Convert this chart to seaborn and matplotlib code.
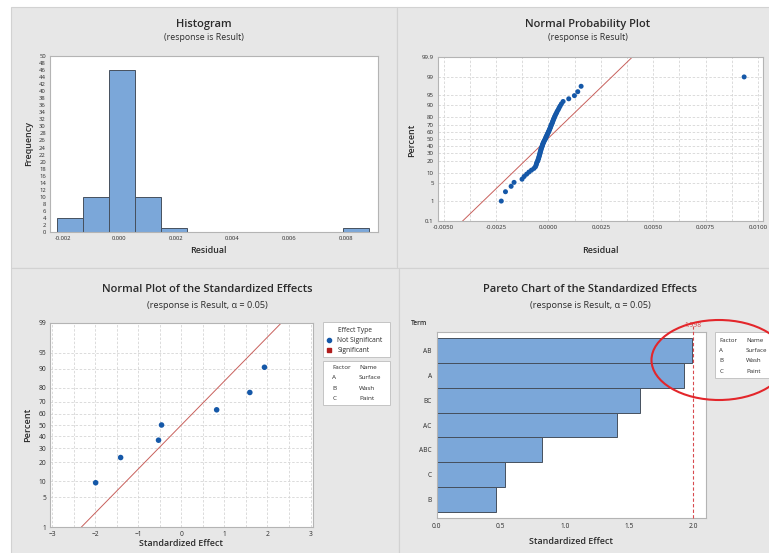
import matplotlib
matplotlib.use('Agg')
import numpy as np
import pandas as pd
import matplotlib.pyplot as plt
import seaborn as sns
from matplotlib.patches import Rectangle, Ellipse
from matplotlib.lines import Line2D
from matplotlib.transforms import blended_transform_factory
from statistics import NormalDist

# ── 1. DATA ──────────────────────────────────────────────────
hist_edges = [-0.0022, -0.00128, -0.00036, 0.00056, 0.00148, 0.0024, 0.00332,
              0.00424, 0.00516, 0.00608, 0.007, 0.00792, 0.00884]
hist_counts = [4, 10, 46, 10, 1, 0, 0, 0, 0, 0, 0, 1]

residuals = [
    -0.00225, -0.00205, -0.00178, -0.00164, -0.00126, -0.00116, -0.00104,
    -0.00093, -0.00081, -0.00069, -0.00062, -0.00059, -0.00057, -0.00055,
    -0.00051, -0.00050, -0.00047, -0.00046, -0.00044, -0.00043, -0.00041,
    -0.00040, -0.00039, -0.00037, -0.00036, -0.00035, -0.00033, -0.00031,
    -0.00030, -0.00028, -0.00027, -0.00025, -0.00023, -0.00021, -0.00019,
    -0.00016, -0.00014, -0.00012, -0.00011, -0.00008, -0.00006, -0.00005,
    -0.00002, 0.00000, 0.00002, 0.00004, 0.00006, 0.00008, 0.00010,
    0.00012, 0.00013, 0.00016, 0.00018, 0.00020, 0.00022, 0.00024,
    0.00027, 0.00029, 0.00032, 0.00035, 0.00039, 0.00042, 0.00047,
    0.00051, 0.00056, 0.00062, 0.00070, 0.00097, 0.00124, 0.00140,
    0.00156, 0.00934,
]

effect_terms = ['A', 'B', 'C', 'AB', 'AC', 'BC', 'ABC']
effect_values = [1.93, -0.46, -0.53, -1.99, -1.41, 1.59, 0.82]
t_crit = 1.998

factor_codes = ['A', 'B', 'C']
factor_names = ['Surface', 'Wash', 'Paint']

hist_xticks = [-0.002, 0.0, 0.002, 0.004, 0.006, 0.008]
resid_xticks = [-0.005, -0.0025, 0.0, 0.0025, 0.005, 0.0075, 0.01]
resid_pct_ticks = [0.1, 1, 5, 10, 20, 30, 40, 50, 60, 70, 80, 90, 95, 99, 99.9]
effect_pct_ticks = [1, 5, 10, 20, 30, 40, 50, 60, 70, 80, 90, 95, 99]

# ── 2. STYLE ─────────────────────────────────────────────────
sns.set_style('white')
plt.rcParams['font.family'] = ['Open Sans', 'DejaVu Sans']

W, H = 769, 553
PANEL = '#e7e7e7'
PANEL_EDGE = '#d2d2d2'
BAR = '#7ba7d9'
BAR_EDGE = '#46505e'
DOT = '#1558a8'
FIT = '#c8605c'
RED = '#d84a4f'
SPINE = '#b4b4b4'
TXT = '#2b2b2b'
ND = NormalDist()

fig = plt.figure(figsize=(W / 100, H / 100), dpi=100)


def frame(x0, y0, x1, y1):
    return [x0 / W, 1 - y1 / H, (x1 - x0) / W, (y1 - y0) / H]


def ftext(x, y, s, **kw):
    kw.setdefault('color', TXT)
    fig.text(x / W, 1 - y / H, s, **kw)


def fbox(x0, y0, x1, y1, fc, ec, lw=0.8, z=-10):
    fig.patches.append(Rectangle((x0 / W, 1 - y1 / H), (x1 - x0) / W, (y1 - y0) / H,
                                 transform=fig.transFigure, facecolor=fc,
                                 edgecolor=ec, lw=lw, zorder=z))


def style_axes(ax, size, pad=1):
    for sp in ax.spines.values():
        sp.set_color(SPINE)
        sp.set_linewidth(0.8)
    ax.tick_params(labelsize=size, length=2, width=0.5, color='#8c8c8c',
                   labelcolor=TXT, pad=pad)
    ax.tick_params(which='minor', length=0)
    ax.set_xlabel('')
    ax.set_ylabel('')


# panel backgrounds
for box in [(11, 7, 397, 268), (397, 7, 776, 268),
            (11, 268, 399, 560), (399, 268, 776, 560)]:
    fbox(*box, PANEL, PANEL_EDGE)

# ── 3. HISTOGRAM ─────────────────────────────────────────────
ax1 = fig.add_axes(frame(50, 56, 378, 232))
centers = [(a + b) / 2 for a, b in zip(hist_edges[:-1], hist_edges[1:])]
sns.histplot(x=centers, weights=hist_counts, bins=hist_edges, color=BAR,
             edgecolor=BAR_EDGE, linewidth=0.7, alpha=1, ax=ax1)
ax1.set_xlim(-0.00246, 0.00915)
ax1.set_ylim(0, 50)
ax1.set_yticks(range(0, 51, 2))
ax1.set_xticks(hist_xticks)
ax1.set_xticklabels([f'{v:.3f}' for v in hist_xticks])
style_axes(ax1, 4.2)
ftext(204, 25, 'Histogram', fontsize=8, fontweight='semibold', ha='center', va='center')
ftext(204, 38, '(response is Result)', fontsize=6.3, ha='center', va='center')
ftext(208, 251, 'Residual', fontsize=6.4, fontweight='semibold', ha='center', va='center')
ftext(29, 144, 'Frequency', fontsize=6.4, fontweight='semibold', rotation=90,
      ha='center', va='center')

# ── 4. NORMAL PROBABILITY PLOT OF RESIDUALS ──────────────────
ax2 = fig.add_axes(frame(438, 57, 763, 221))
res_sorted = np.sort(residuals)
n = len(res_sorted)
z_res = [ND.inv_cdf((i + 1 - 0.3) / (n + 0.4)) for i in range(n)]
mu, sd = np.mean(residuals), np.std(residuals, ddof=1)
z_line = np.array([ND.inv_cdf(0.0002), ND.inv_cdf(0.9998)])
ax2.plot(mu + sd * z_line, z_line, color=FIT, lw=0.7, zorder=2)
sns.scatterplot(x=res_sorted, y=z_res, color=DOT, s=13, edgecolor='none',
                linewidth=0, ax=ax2, zorder=3)
ax2.set_xlim(-0.00527, 0.01024)
ax2.set_ylim(ND.inv_cdf(0.001), ND.inv_cdf(0.999))
ax2.set_xticks(resid_xticks)
ax2.set_xticklabels([f'{v:.4f}' for v in resid_xticks])
ax2.set_xticks([v + 0.00125 for v in resid_xticks[:-1]], minor=True)
ax2.set_yticks([ND.inv_cdf(p / 100) for p in resid_pct_ticks])
ax2.set_yticklabels([f'{p:g}' for p in resid_pct_ticks])
ax2.grid(which='both', axis='x', ls=(0, (3, 2)), color='#d6d6d6', lw=0.6)
ax2.grid(which='major', axis='y', ls=(0, (3, 2)), color='#d6d6d6', lw=0.6)
style_axes(ax2, 4.4)
ftext(588, 25, 'Normal Probability Plot', fontsize=8, fontweight='semibold',
      ha='center', va='center')
ftext(588, 38, '(response is Result)', fontsize=6.3, ha='center', va='center')
ftext(600, 251, 'Residual', fontsize=6.4, fontweight='semibold', ha='center', va='center')
ftext(412, 140, 'Percent', fontsize=6.4, fontweight='semibold', rotation=90,
      ha='center', va='center')

# ── 5. NORMAL PLOT OF STANDARDIZED EFFECTS ───────────────────
ax3 = fig.add_axes(frame(50, 322.7, 312.7, 527.3))
eff = pd.DataFrame({'term': effect_terms, 'effect': effect_values})
eff = eff.sort_values('effect').reset_index(drop=True)
m = len(eff)
eff['z'] = [ND.inv_cdf((i + 1 - 0.3) / (m + 0.4)) for i in range(m)]
eff['type'] = np.where(eff['effect'].abs() > t_crit, 'Significant', 'Not Significant')
z_ref = np.array([ND.inv_cdf(0.001), ND.inv_cdf(0.999)])
ax3.plot(z_ref, z_ref, color=FIT, lw=0.7, zorder=2)
sns.scatterplot(data=eff, x='effect', y='z', hue='type',
                palette={'Not Significant': DOT, 'Significant': '#b01c1c'},
                s=16, edgecolor='none', linewidth=0, legend=False, ax=ax3, zorder=3)
ax3.set_xlim(-3.05, 3.05)
ax3.set_ylim(ND.inv_cdf(0.01), ND.inv_cdf(0.99))
ax3.set_xticks(range(-3, 4))
ax3.set_xticks(np.arange(-2.5, 3.0, 1.0), minor=True)
ax3.set_yticks([ND.inv_cdf(p / 100) for p in effect_pct_ticks])
ax3.set_yticklabels([f'{p:g}' for p in effect_pct_ticks])
ax3.grid(which='both', axis='x', ls=(0, (3, 2)), color='#d6d6d6', lw=0.6)
ax3.grid(which='major', axis='y', ls=(0, (3, 2)), color='#d6d6d6', lw=0.6)
style_axes(ax3, 4.8, pad=0.5)
ftext(207, 289, 'Normal Plot of the Standardized Effects', fontsize=8,
      fontweight='semibold', ha='center', va='center')
ftext(207, 305, '(response is Result, α = 0.05)', fontsize=6.6, ha='center', va='center')
ftext(181, 543, 'Standardized Effect', fontsize=6.4, fontweight='semibold',
      ha='center', va='center')
ftext(28, 425, 'Percent', fontsize=6.6, fontweight='semibold', rotation=90,
      ha='center', va='center')

# legend boxes (effect type + factor table)
fbox(322.7, 322.3, 390, 356.7, 'white', '#c4c4c4', 0.7, 5)
fbox(322.7, 360.7, 390, 405, 'white', '#c4c4c4', 0.7, 5)
ftext(354.5, 330, 'Effect Type', fontsize=4.8, ha='center', va='center', zorder=6)
fig.add_artist(Line2D([329.3 / W], [1 - 340 / H], transform=fig.transFigure,
                      marker='o', ms=3, color=DOT, ls='', zorder=6))
fig.add_artist(Line2D([329.3 / W], [1 - 350 / H], transform=fig.transFigure,
                      marker='s', ms=2.8, color='#b01c1c', ls='', zorder=6))
ftext(337.3, 340, 'Not Significant', fontsize=4.8, va='center', zorder=6)
ftext(337.3, 350, 'Significant', fontsize=4.8, va='center', zorder=6)
ftext(332.3, 367.3, 'Factor', fontsize=4.6, va='center', zorder=6)
ftext(359, 367.3, 'Name', fontsize=4.6, va='center', zorder=6)
for k, (c, nm) in enumerate(zip(factor_codes, factor_names)):
    ftext(332.3, 377.5 + 10.5 * k, c, fontsize=4.6, va='center', zorder=6)
    ftext(359, 377.5 + 10.5 * k, nm, fontsize=4.6, va='center', zorder=6)

# ── 6. PARETO CHART ──────────────────────────────────────────
ax4 = fig.add_axes(frame(436.7, 331.7, 705.7, 518.3))
par = pd.DataFrame({'term': effect_terms, 'abs_effect': np.abs(effect_values)})
par = par.sort_values('abs_effect', ascending=False)
sns.barplot(data=par, x='abs_effect', y='term', order=list(par['term']),
            color=BAR, edgecolor=BAR_EDGE, linewidth=0.7, width=1.0,
            saturation=1, errorbar=None, ax=ax4)
ax4.set_xlim(0, 2.1)
ax4.set_ylim(len(par) - 0.5 + 0.27, -0.5 - 0.27)
ax4.set_xticks([0.0, 0.5, 1.0, 1.5, 2.0])
ax4.set_xticklabels(['0.0', '0.5', '1.0', '1.5', '2.0'])
ax4.axvline(t_crit, ymin=0, ymax=1.03, color=RED, ls=(0, (3, 2)), lw=0.8,
            clip_on=False, zorder=4)
trans = blended_transform_factory(ax4.transData, ax4.transAxes)
ax4.text(t_crit, 1.015, f'{t_crit:.3f}', transform=trans, ha='center', va='bottom',
         fontsize=4.8, color=RED)
style_axes(ax4, 4.8, pad=1.5)
ftext(590, 289, 'Pareto Chart of the Standardized Effects', fontsize=8,
      fontweight='semibold', ha='center', va='center')
ftext(590, 305, '(response is Result, α = 0.05)', fontsize=6.6, ha='center', va='center')
ftext(571, 541, 'Standardized Effect', fontsize=6.4, fontweight='semibold',
      ha='center', va='center')
ftext(419.5, 323.3, 'Term', fontsize=4.8, fontweight='semibold', ha='center', va='center')

fbox(715, 331.7, 780, 378.3, 'white', '#c4c4c4', 0.7, 5)
ftext(719.3, 340.7, 'Factor', fontsize=4.4, va='center', zorder=6)
ftext(746, 340.7, 'Name', fontsize=4.4, va='center', zorder=6)
for k, (c, nm) in enumerate(zip(factor_codes, factor_names)):
    ftext(719.3, 350.7 + 10.2 * k, c, fontsize=4.4, va='center', zorder=6)
    ftext(746, 350.7 + 10.2 * k, nm, fontsize=4.4, va='center', zorder=6)

# hand-drawn highlight around the top bars
fig.add_artist(Ellipse((719 / W, 1 - 360 / H), 135 / W, 80 / H,
                       transform=fig.transFigure, fill=False,
                       edgecolor='#e3262b', lw=1.5, zorder=8))

fig.savefig('out.png', dpi=100)
